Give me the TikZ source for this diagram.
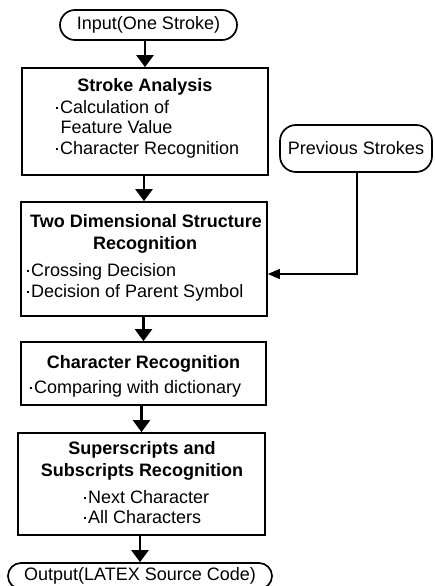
\documentclass[tikz,border=0pt]{standalone}
\usepackage{fontspec}
\setmainfont{Liberation Sans}
\usetikzlibrary{arrows.meta,shapes.misc}
\newcommand{\bul}{\llap{\raisebox{3.6pt}{\rule{2.5pt}{2.5pt}}\kern2.2pt}}
\begin{document}
\begin{tikzpicture}[x=1pt,y=1pt,
  every node/.style={font=\fontsize{18}{21}\selectfont},
  procbox/.style={draw,line width=1.7pt,rectangle,inner sep=0pt},
  term/.style={draw,line width=1.7pt,rounded rectangle,inner sep=0pt},
  title/.style={anchor=base,font=\fontsize{18}{21}\selectfont\bfseries,inner sep=0pt},
  item/.style={anchor=base west,inner sep=0pt},
  mainarrow/.style={line width=2.3pt,-{Triangle[width=17pt,length=12pt]}},
  thinarrow/.style={line width=1.4pt,-{Triangle[width=10pt,length=12pt]}}]
\useasboundingbox[fill=white] (0,0) rectangle (434,-586);

% terminals
\node[term,minimum width=177pt,minimum height=30pt] (in) at (148.5,-25) {Input(One Stroke)};
\node[term,minimum width=264pt,minimum height=26pt] (out) at (140,-576) {Output(LATEX Source Code)};
\node[draw,line width=1.7pt,rounded corners=16pt,minimum width=152pt,minimum height=47pt,inner sep=0pt] (prev) at (356,-148.5) {Previous Strokes};

% process boxes
\node[procbox,minimum width=246pt,minimum height=107pt] (b1) at (145,-121.5) {};
\node[procbox,minimum width=246pt,minimum height=114pt] (b2) at (144,-259) {};
\node[procbox,minimum width=245pt,minimum height=63pt] (b3) at (143.5,-373.5) {};
\node[procbox,minimum width=247pt,minimum height=102pt] (b4) at (141.5,-484) {};

% box 1 text
\node[title] (t1) at (145,-92) {Stroke Analysis};
\node[item] (t1a) at (60,-113) {\bul Calculation of};
\node[item] (t1b) at (60.5,-133) {Feature Value};
\node[item] (t1c) at (60,-154) {\bul Character Recognition};

% box 2 text
\node[title] (t2) at (146,-227) {Two Dimensional Structure};
\node[title] (t2b) at (145,-249) {Recognition};
\node[item] (t2c) at (31,-276) {\bul Crossing Decision};
\node[item] (t2d) at (31,-297) {\bul Decision of Parent Symbol};

% box 3 text
\node[title] (t3) at (143.5,-368) {Character Recognition};
\node[item] (t3a) at (34,-393) {\bul Comparing with dictionary};

% box 4 text
\node[title] (t4) at (142,-454) {Superscripts and};
\node[title] (t4b) at (142,-476) {Subscripts Recognition};
\node[item] (t4c) at (88,-503) {\bul Next Character};
\node[item] (t4d) at (88,-523) {\bul All Characters};

% connectors
\draw[mainarrow] (b1.north |- in.south) -- (b1.north);
\draw[mainarrow] (b2.north |- b1.south) -- (b2.north);
\draw[mainarrow] (b3.north |- b2.south) -- (b3.north);
\draw[mainarrow] (b4.north |- b3.south) -- (b4.north);
\draw[mainarrow] (out.north |- b4.south) -- (out.north);
\draw[thinarrow] ([xshift=1pt]prev.south) |- ([yshift=-15pt]b2.east);
\end{tikzpicture}
\end{document}
